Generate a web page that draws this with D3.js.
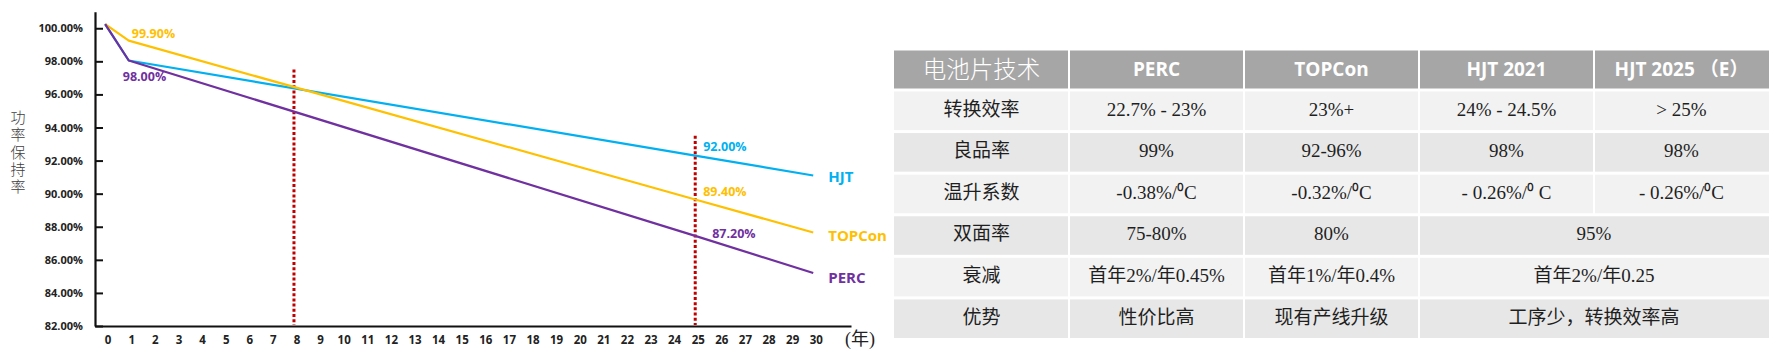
<!DOCTYPE html>
<html>
<head>
<meta charset="utf-8">
<script src="https://cdn.jsdelivr.net/npm/d3@7"></script>
<style>
  html, body { margin: 0; padding: 0; background: #fff; }
  svg { display: block; }
</style>
</head>
<body>
<svg id="chart" width="1790" height="360"></svg>
<script>
// ---------------- DATA ----------------
const years = [0, 1, 25, 30];
const hjtValues    = [100.25, 98.05, 92.30, 91.10];
const topconValues = [100.25, 99.25, 89.65, 87.65];
const percValues   = [100.25, 98.05, 87.45, 85.20];
const seriesNames  = ["HJT", "TOPCon", "PERC"];

const xTicks = d3.range(0, 31);          // 0 … 30 年
const yTicks = [82, 84, 86, 88, 90, 92, 94, 96, 98, 100];
const yTickLabels = ["82.00%", "84.00%", "86.00%", "88.00%", "90.00%", "92.00%", "94.00%", "96.00%", "98.00%", "100.00%"];
const xUnitLabel = "(年)";
const yTitle = "功率保持率";

// reference markers (year, top value)
const markerYears = [8, 25];
const markerTops  = [97.5, 93.5];

// value annotations
const annoTexts  = ["99.90%", "98.00%", "92.00%", "89.40%", "87.20%"];
const annoYears  = [1, 1, 25, 25, 25];
const annoValues = [99.25, 98.05, 92.30, 89.65, 87.45];
const annoSeries = ["TOPCon", "PERC", "HJT", "TOPCon", "PERC"];

// table
const tableColumns = ["电池片技术", "PERC", "TOPCon", "HJT 2021", "HJT 2025 （E）"];
const rowLabels   = ["转换效率", "良品率", "温升系数", "双面率", "衰减", "优势"];
const percCol     = ["22.7% - 23%", "99%", "-0.38%/⁰C", "75-80%", "首年2%/年0.45%", "性价比高"];
const topconCol   = ["23%+", "92-96%", "-0.32%/⁰C", "80%", "首年1%/年0.4%", "现有产线升级"];
const hjt2021Col  = ["24% - 24.5%", "98%", "- 0.26%/⁰ C", "95%", "首年2%/年0.25", "工序少，转换效率高"];
const hjt2025Col  = ["> 25%", "98%", "- 0.26%/⁰C", null, null, null]; // null = merged with HJT 2021

// ---------------- STYLE ----------------
const colors = { HJT: "#00b0f0", TOPCon: "#ffc000", PERC: "#7030a0" };
const markerColor = "#c00000";
const latinBold = "'Open Sans', 'Noto Sans CJK SC', sans-serif";
const bodyFont = "'Liberation Serif', 'Noto Sans CJK SC', serif";
const cjkFont = "'Noto Sans CJK SC', sans-serif";

const svg = d3.select("#chart");

// ---------------- CHART ----------------
const x = d3.scaleLinear().domain([-0.43, 31.6]).range([95, 851]);
const y = d3.scaleLinear().domain([82, 101]).range([326, 11.7]);

// y axis
const yAxis = d3.axisLeft(y)
  .tickValues(yTicks)
  .tickFormat((d, i) => yTickLabels[i])
  .tickSizeInner(-8).tickSizeOuter(0).tickPadding(12);
const gy = svg.append("g").attr("transform", "translate(95,0)").call(yAxis);
gy.select(".domain").attr("stroke", "#111").attr("stroke-width", 2.2);
gy.selectAll(".tick line").attr("stroke", "#111").attr("stroke-width", 2);
gy.selectAll(".tick text")
  .attr("font-family", latinBold).attr("font-weight", 700)
  .attr("font-size", 11).attr("fill", "#222").attr("x", -12);

// x axis
const xAxis = d3.axisBottom(x).tickValues(xTicks).tickSize(0).tickPadding(10);
const gx = svg.append("g").attr("transform", "translate(0,326)").call(xAxis);
gx.select(".domain").attr("stroke", "#111").attr("stroke-width", 2.2);
gx.selectAll(".tick text")
  .attr("font-family", latinBold).attr("font-weight", 700)
  .attr("font-size", 11.5).attr("fill", "#222").attr("dx", 2.5);

// unit label
svg.append("text")
  .attr("x", x(31.6) - 6).attr("y", 345)
  .attr("font-family", bodyFont).attr("font-size", 18).attr("fill", "#222")
  .text(xUnitLabel);

// y title (vertical, one text element)
svg.append("text")
  .attr("x", 18).attr("y", 153)
  .attr("writing-mode", "vertical-rl")
  .attr("text-anchor", "middle")
  .attr("letter-spacing", 2.25)
  .attr("font-family", cjkFont).attr("font-weight", 300)
  .attr("font-size", 15).attr("fill", "#404040")
  .text(yTitle);

// marker lines
svg.append("g").selectAll("line").data(markerYears).join("line")
  .attr("x1", d => x(d)).attr("x2", d => x(d))
  .attr("y1", (d, i) => y(markerTops[i])).attr("y2", y(82) - 1)
  .attr("stroke", markerColor).attr("stroke-width", 3)
  .attr("stroke-dasharray", "3,2.2");

// series lines
const seriesData = {
  HJT: years.map((yr, i) => [yr, hjtValues[i]]),
  TOPCon: years.map((yr, i) => [yr, topconValues[i]]),
  PERC: years.map((yr, i) => [yr, percValues[i]])
};
const line = d3.line().x(d => x(d[0])).y(d => y(d[1]));
["HJT", "TOPCon", "PERC"].forEach(name => {
  svg.append("path").datum(seriesData[name])
    .attr("d", line).attr("fill", "none")
    .attr("stroke", colors[name]).attr("stroke-width", 2.2)
    .attr("stroke-linejoin", "round");
});

// series name labels at line ends
const nameDy = { HJT: 7, TOPCon: 8.5, PERC: 10 };
svg.append("g").selectAll("text").data(seriesNames).join("text")
  .attr("x", x(30) + 15)
  .attr("y", d => y(seriesData[d][seriesData[d].length - 1][1]) + nameDy[d])
  .attr("font-family", latinBold).attr("font-weight", 700)
  .attr("font-size", 15).attr("fill", d => colors[d])
  .text(d => d);

// value annotations
const annoDx = [3, -6, 8, 8, 17];
const annoDy = [-2.7, 20.5, -4.6, -3, 2.5];
svg.append("g").selectAll("text").data(annoTexts).join("text")
  .attr("x", (d, i) => x(annoYears[i]) + annoDx[i])
  .attr("y", (d, i) => y(annoValues[i]) + annoDy[i])
  .attr("font-family", latinBold).attr("font-weight", 700)
  .attr("font-size", 12.5).attr("fill", (d, i) => colors[annoSeries[i]])
  .text(d => d);

// ---------------- TABLE ----------------
const colX = d3.scaleBand().domain(d3.range(tableColumns.length)).range([894, 1769]);
const rowY = d3.scaleBand().domain(d3.range(rowLabels.length)).range([90, 339.5]);
const headerTop = 50.5, headerBottom = 88.5;
const tbl = svg.append("g");

// header
tbl.selectAll("rect.h").data(tableColumns).join("rect").attr("class", "h")
  .attr("x", (d, i) => colX(i) + (i === 0 ? 0 : 1))
  .attr("width", (d, i) => colX.bandwidth() - (i === 0 ? 1 : 2) + (i === tableColumns.length - 1 ? 1 : 0))
  .attr("y", headerTop).attr("height", headerBottom - headerTop)
  .attr("fill", "#a6a6a6");
tbl.selectAll("text.h").data(tableColumns).join("text").attr("class", "h")
  .attr("x", (d, i) => colX(i) + colX.bandwidth() / 2)
  .attr("y", (headerTop + headerBottom) / 2).attr("dy", "0.36em")
  .attr("text-anchor", "middle").attr("fill", "#fff")
  .attr("font-family", (d, i) => i === 0 ? cjkFont : latinBold)
  .attr("font-weight", (d, i) => i === 0 ? 300 : 700)
  .attr("font-size", (d, i) => i === 0 ? 23.5 : 19)
  .text(d => d);

// body cells
const cols = [rowLabels, percCol, topconCol, hjt2021Col, hjt2025Col];
const cells = [];
rowLabels.forEach((r, ri) => {
  cols.forEach((col, ci) => {
    const v = col[ri];
    if (v === null) return;
    let span = 1;
    if (ci + 1 < cols.length && cols[ci + 1][ri] === null) span = 2;
    cells.push({ ri, ci, span, text: v });
  });
});
const rowFill = ri => (ri % 2 === 0 ? "#f2f2f2" : "#e7e7e7");
tbl.selectAll("rect.c").data(cells).join("rect").attr("class", "c")
  .attr("x", d => colX(d.ci) + (d.ci === 0 ? 0 : 1))
  .attr("width", d => colX.bandwidth() * d.span - (d.ci === 0 ? 1 : 2) + (d.ci + d.span === cols.length ? 1 : 0))
  .attr("y", d => rowY(d.ri) + 1.5).attr("height", rowY.bandwidth() - 3)
  .attr("fill", d => rowFill(d.ri));
tbl.selectAll("text.c").data(cells).join("text").attr("class", "c")
  .attr("x", d => colX(d.ci) + colX.bandwidth() * d.span / 2)
  .attr("y", d => rowY(d.ri) + rowY.bandwidth() / 2 - 2).attr("dy", "0.36em")
  .attr("text-anchor", "middle").attr("fill", "#1f1f1f")
  .attr("font-family", bodyFont).attr("font-size", 19)
  .text(d => d.text);
</script>
</body>
</html>
